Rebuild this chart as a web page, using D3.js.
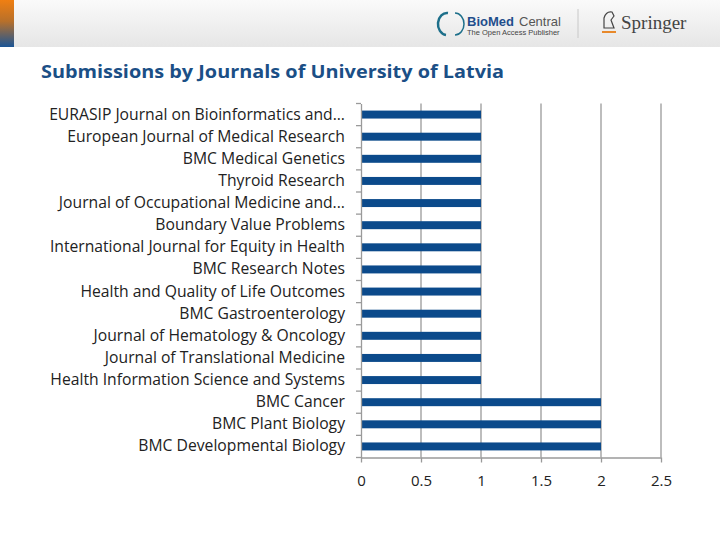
<!DOCTYPE html>
<html><head><meta charset="utf-8">
<script src="https://cdn.jsdelivr.net/npm/d3@7"></script>
<style>html,body{margin:0;padding:0;background:#fff;}svg{display:block;}</style>
</head><body>
<svg id="chart" width="720" height="540"></svg>
<script>
const categories = [
  "EURASIP Journal on Bioinformatics and...",
  "European Journal of Medical Research",
  "BMC Medical Genetics",
  "Thyroid Research",
  "Journal of Occupational Medicine and...",
  "Boundary Value Problems",
  "International Journal for Equity in Health",
  "BMC Research Notes",
  "Health and Quality of Life Outcomes",
  "BMC Gastroenterology",
  "Journal of Hematology & Oncology",
  "Journal of Translational Medicine",
  "Health Information Science and Systems",
  "BMC Cancer",
  "BMC Plant Biology",
  "BMC Developmental Biology"
];
const values = [1,1,1,1,1,1,1,1,1,1,1,1,1,2,2,2];
const xTicks = [0,0.5,1,1.5,2,2.5];
const title = "Submissions by Journals of University of Latvia";

const svg = d3.select("#chart");
const defs = svg.append("defs");
const hg = defs.append("linearGradient").attr("id","hdr").attr("x1",0).attr("y1",0).attr("x2",0).attr("y2",1);
hg.append("stop").attr("offset","0%").attr("stop-color","#fafafa");
hg.append("stop").attr("offset","100%").attr("stop-color","#e6e6e6");
const sg = defs.append("linearGradient").attr("id","strip").attr("x1",0).attr("y1",0).attr("x2",0).attr("y2",1);
sg.append("stop").attr("offset","0%").attr("stop-color","#f07f12");
sg.append("stop").attr("offset","45%").attr("stop-color","#b8702a");
sg.append("stop").attr("offset","100%").attr("stop-color","#1b5596");

svg.append("rect").attr("x",0).attr("y",0).attr("width",720).attr("height",47).attr("fill","url(#hdr)");
svg.append("rect").attr("x",0).attr("y",0).attr("width",14).attr("height",47).attr("fill","url(#strip)");

// logos (text approximations)
const logo = svg.append("g");
logo.append("path").attr("d","M448,13 A9,11 0 0 0 446,35").attr("fill","none").attr("stroke","#1d6f8a").attr("stroke-width",2.5);
logo.append("path").attr("d","M455,13 A9,11 0 0 1 455,35").attr("fill","none").attr("stroke","#1d6f8a").attr("stroke-width",1.5);
logo.append("text").attr("x",467).attr("y",26).attr("font-family","Liberation Sans, Arial").attr("font-weight","bold").attr("font-size",13).attr("fill","#1f4e8c").text("BioMed");
logo.append("text").attr("x",519).attr("y",26).attr("font-family","Liberation Sans, Arial").attr("font-size",13).attr("fill","#555").text("Central");
logo.append("text").attr("x",467).attr("y",35).attr("font-family","Liberation Sans, Arial").attr("font-size",7.5).attr("fill","#444").text("The Open Access Publisher");
logo.append("line").attr("x1",578).attr("x2",578).attr("y1",9).attr("y2",38).attr("stroke","#c8c8c8");
logo.append("path").attr("d","M604,28 L604,18 Q606,11 612,12 L614,16 L611,20 L614,28 Z").attr("fill","none").attr("stroke","#444").attr("stroke-width",1.2);
logo.append("line").attr("x1",602).attr("x2",616).attr("y1",32).attr("y2",32).attr("stroke","#e8892b").attr("stroke-width",2);
logo.append("text").attr("x",621).attr("y",29).attr("font-family","Liberation Serif, serif").attr("font-size",19).attr("fill","#444").text("Springer");

svg.append("text").attr("x",41).attr("y",78).attr("font-family","Open Sans, sans-serif").attr("font-weight","bold")
  .attr("font-size",18.5).attr("textLength",463).attr("lengthAdjust","spacingAndGlyphs").attr("fill","#1b4f86").text(title);

const m = {left:361, right:661, top:103.5, bottom:457.5};
const x = d3.scaleLinear().domain([0,2.5]).range([m.left, m.right]);
const y = d3.scaleBand().domain(categories).range([m.top, m.bottom]).paddingInner(0.64).paddingOuter(0.32);

// gridlines
svg.append("g").selectAll("line").data(xTicks.slice(1)).join("line")
  .attr("x1",d=>x(d)).attr("x2",d=>x(d)).attr("y1",m.top).attr("y2",m.bottom)
  .attr("stroke","#9a9a9a").attr("stroke-width",1.3);

// bars
svg.append("g").selectAll("rect").data(categories).join("rect")
  .attr("x",x(0)).attr("y",(d)=>y(d)).attr("height",y.bandwidth())
  .attr("width",(d,i)=>x(values[i])-x(0)).attr("fill","#0b4a8b");

// bottom axis
const xa = svg.append("g").attr("transform",`translate(0,${m.bottom})`)
  .call(d3.axisBottom(x).tickValues(xTicks).tickFormat(d3.format("")).tickSize(5).tickSizeOuter(0));
xa.select(".domain").attr("stroke","#9a9a9a").attr("stroke-width",1.3);
xa.selectAll(".tick line").attr("stroke","#9a9a9a").attr("stroke-width",1.3);
xa.selectAll("text").attr("font-family","Open Sans, sans-serif").attr("font-size",15).attr("fill","#222").attr("dy","1.35em");

// left axis
const ya = svg.append("g").attr("transform",`translate(${m.left},0)`)
  .call(d3.axisLeft(y).tickSize(0).tickPadding(16));
ya.select(".domain").attr("stroke","#9a9a9a").attr("stroke-width",1.3);
ya.selectAll("text").attr("font-family","Open Sans, sans-serif").attr("font-size",15.7).attr("fill","#222");
const bounds = d3.range(categories.length+1).map(i => m.top + i*(m.bottom-m.top)/categories.length);
svg.append("g").selectAll("line").data(bounds).join("line")
  .attr("x1",m.left-5).attr("x2",m.left).attr("y1",d=>d).attr("y2",d=>d)
  .attr("stroke","#9a9a9a").attr("stroke-width",1.3);
</script>
</body></html>
